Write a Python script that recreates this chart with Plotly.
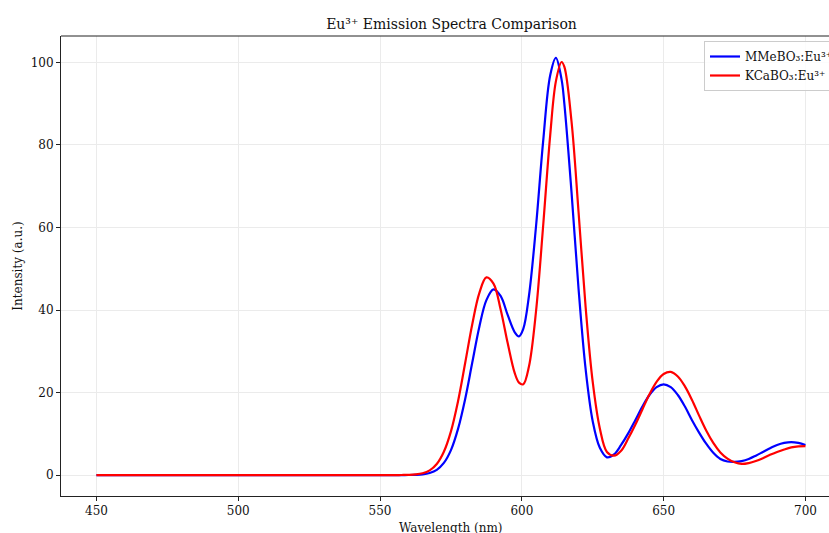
import plotly.graph_objects as go

wavelength = [450, 455, 460, 465, 470, 475, 480, 485, 490, 495, 500, 505, 510, 515, 520,
              525, 530, 535, 540, 545, 550, 555,
              557.5, 560, 562.5, 565, 567.5, 570, 572.5, 575, 577.5, 580, 582.5, 585, 587.5,
              590, 592.5, 595, 597.5, 599, 600.5, 602.5, 605, 607.5, 610, 612, 614, 615, 617.5, 620,
              622.5, 625, 627.5, 630, 632.5, 635, 637.5, 640, 642.5, 645, 647.5, 650, 652.5,
              655, 657.5, 660, 662.5, 665, 667.5, 670, 672.5, 675, 677.5, 680, 682.5, 685,
              687.5, 690, 692.5, 695, 697.5, 700]

mmebo3 = [0] * 22 + [0.0, 0.02, 0.06, 0.17, 0.5, 1.28, 2.95, 6.06, 11.2, 18.4, 27.2, 35.9, 42.4,
                     45.0, 43.4, 38.8, 34.6, 33.6, 35.4, 43.4, 60.3, 80.8, 96.9, 101.1, 95.9, 89.9,
                     68.7, 45.1, 25.6, 13.0, 6.6, 4.3, 5.0, 7.3, 10.1, 13.3, 16.6, 19.4, 21.3, 22.0,
                     21.3, 19.4, 16.6, 13.3, 10.3, 7.6, 5.4, 3.9, 3.3, 3.2, 3.4, 3.9, 4.7, 5.6,
                     6.5, 7.3, 7.8, 8.0, 7.8, 7.3]

kcabo3 = [0] * 22 + [0.02, 0.05, 0.15, 0.43, 1.14, 2.68, 5.65, 10.6, 17.9, 27.1, 36.5, 44.1, 47.9,
                     46.4, 40.2, 32.0, 24.7, 22.4, 22.0, 26.3, 39.7, 60.3, 82.4, 95.4, 100.1, 98.9,
                     85.8, 63.7, 40.6, 22.5, 11.3, 5.6, 4.7, 5.9, 8.85, 12.2, 15.9, 19.6, 22.6, 24.5,
                     25.0, 23.9, 21.5, 18.2, 14.4, 10.8, 7.8, 5.5, 4.0, 3.1, 2.7, 2.9, 3.4, 4.1,
                     4.9, 5.6, 6.2, 6.7, 6.95, 7.0]

x_ticks = [450, 500, 550, 600, 650, 700]
y_ticks = [0, 20, 40, 60, 80, 100]

FONT = "DejaVu Serif"
W, H = 829, 533              # figure fills the window (body margin removed below)
PL, PT, PB = 61, 36, 496     # plot area edges in the window
PXNM = (806 - 97) / 250      # pixels per nm
X0 = 437.5
X1 = X0 + (W - PL) / PXNM    # plot area runs past the window's right edge

fig = go.Figure()
fig.add_trace(go.Scatter(x=wavelength, y=mmebo3, mode="lines", name="MMeBO₃:Eu³⁺",
                         line=dict(color="blue", width=2.2, shape="spline", smoothing=1.0)))
fig.add_trace(go.Scatter(x=wavelength, y=kcabo3, mode="lines", name="KCaBO₃:Eu³⁺",
                         line=dict(color="red", width=2.2, shape="spline", smoothing=1.0)))

axis_common = dict(showline=True, linecolor="#222", linewidth=1, mirror=False,
                   ticks="outside", ticklen=4, tickcolor="#222",
                   showgrid=True, gridcolor="#ebebeb", gridwidth=1, zeroline=False,
                   tickfont=dict(family=FONT, size=12, color="#111"))

fig.update_layout(
    width=W, height=H,
    margin=dict(l=PL, r=0, t=PT, b=H - PB, autoexpand=False),
    paper_bgcolor="white", plot_bgcolor="white",
    font=dict(family=FONT, color="#111"),
    title=dict(text="Eu³⁺ Emission Spectra Comparison", x=451.5 / W, xref="container",
               xanchor="center", y=1 - 24 / H, yref="container", yanchor="middle",
               font=dict(family=FONT, size=14, color="#111")),
    xaxis=dict(range=[X0, X1], tickvals=x_ticks, **axis_common),
    yaxis=dict(range=[-5.07, 106.4], tickvals=y_ticks,
               title=dict(text="Intensity (a.u.)", standoff=5, font=dict(family=FONT, size=12)),
               **axis_common),
    legend=dict(x=(704 - PL) / (W - PL), y=1 - 5 / (PB - PT), xanchor="left", yanchor="top",
                bgcolor="rgba(255,255,255,0.85)", bordercolor="#cccccc", borderwidth=1,
                font=dict(family=FONT, size=12), itemwidth=30, tracegroupgap=2),
    showlegend=True,
    shapes=[dict(type="line", xref="paper", yref="paper", x0=0, x1=1, y0=1, y1=1,
                 line=dict(color="#222", width=1))],
    annotations=[dict(text="Wavelength (nm)", xref="x", x=575, yref="paper",
                      y=-(528 - PB) / (PB - PT), yanchor="middle", showarrow=False,
                      font=dict(family=FONT, size=12, color="#111"))],
)

fig.write_html("out.html",
               config={"displayModeBar": False},
               post_script="document.body.style.margin='0';"
                           "document.documentElement.style.overflow='hidden';"
                           "document.body.style.overflow='hidden';")
